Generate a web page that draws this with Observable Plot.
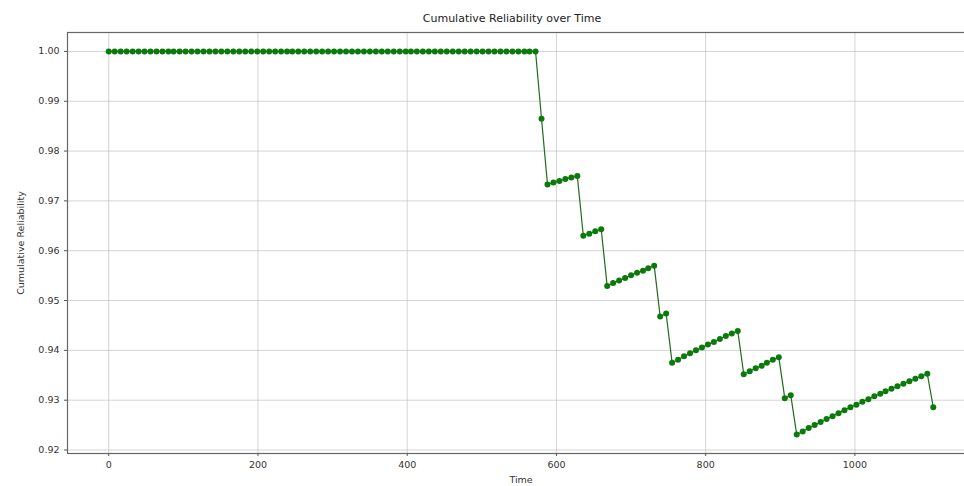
<!DOCTYPE html>
<html><head><meta charset="utf-8">
<script src="https://cdn.jsdelivr.net/npm/d3@7"></script>
<script src="https://cdn.jsdelivr.net/npm/@observablehq/plot@0.6"></script>
<style>html,body{margin:0;padding:0;background:#fff;overflow:hidden}</style>
</head><body><div id="chart"></div>
<script>
const chartTitle = "Cumulative Reliability over Time";
const xLabel = "Time";
const yLabel = "Cumulative Reliability";
const xTicks = [0, 200, 400, 600, 800, 1000];
const yTicks = [0.92, 0.93, 0.94, 0.95, 0.96, 0.97, 0.98, 0.99, 1.00];

const times = [
  0, 8, 16, 24, 32, 40, 48, 56, 64, 72,
  80, 87, 95, 103, 111, 119, 127, 135, 143, 151,
  159, 167, 175, 183, 191, 199, 207, 215, 223, 231,
  239, 246, 254, 262, 270, 278, 286, 294, 302, 310,
  318, 326, 334, 342, 350, 358, 366, 374, 382, 390,
  398, 405, 413, 421, 429, 437, 445, 453, 461, 469,
  477, 485, 493, 501, 509, 517, 525, 533, 541, 549,
  557, 564, 572, 580, 588, 596, 604, 612, 620, 628,
  636, 644, 652, 660, 668, 676, 684, 692, 700, 708,
  716, 723, 731, 739, 747, 755, 763, 771, 779, 787,
  795, 803, 811, 819, 827, 835, 843, 851, 859, 867,
  875, 882, 890, 898, 906, 914, 922, 930, 938, 946,
  954, 962, 970, 978, 986, 994, 1002, 1010, 1018, 1026,
  1034, 1041, 1049, 1057, 1065, 1073, 1081, 1089, 1097, 1105
];

const reliability = [
  1, 1, 1, 1, 1, 1, 1, 1, 1, 1,
  1, 1, 1, 1, 1, 1, 1, 1, 1, 1,
  1, 1, 1, 1, 1, 1, 1, 1, 1, 1,
  1, 1, 1, 1, 1, 1, 1, 1, 1, 1,
  1, 1, 1, 1, 1, 1, 1, 1, 1, 1,
  1, 1, 1, 1, 1, 1, 1, 1, 1, 1,
  1, 1, 1, 1, 1, 1, 1, 1, 1, 1,
  1, 1, 1, 0.9865, 0.9733, 0.9737, 0.9740, 0.9744, 0.9747, 0.9750,
  0.9630, 0.9634, 0.9639, 0.9643, 0.9529, 0.9535, 0.9540, 0.9545, 0.9551, 0.9556,
  0.9560, 0.9565, 0.9570, 0.9468, 0.9474, 0.9375, 0.9381, 0.9388, 0.9394, 0.9400,
  0.9406, 0.9412, 0.9417, 0.9423, 0.9429, 0.9434, 0.9439, 0.9352, 0.9358, 0.9364,
  0.9369, 0.9375, 0.9381, 0.9386, 0.9304, 0.9310, 0.9231, 0.9237, 0.9244, 0.9250,
  0.9256, 0.9262, 0.9268, 0.9274, 0.9280, 0.9286, 0.9291, 0.9297, 0.9302, 0.9308,
  0.9313, 0.9318, 0.9323, 0.9328, 0.9333, 0.9338, 0.9343, 0.9348, 0.9353, 0.9286
];

const data = times.map((t, i) => ({time: t, reliability: reliability[i]}));

const chart = Plot.plot({
  width: 964,
  height: 486,
  marginTop: 32,
  marginBottom: 33,
  marginLeft: 67,
  marginRight: -10,
  style: {fontFamily: "DejaVu Sans", fontSize: "9.5px", color: "#333", background: "#fff", overflow: "hidden"},
  x: {domain: [-55.25, 1160.25]},
  y: {domain: [0.9193, 1.0038]},
  marks: [
    Plot.gridX(xTicks, {stroke: "#b0b0b0", strokeOpacity: 0.55, strokeWidth: 1}),
    Plot.gridY(yTicks, {stroke: "#b0b0b0", strokeOpacity: 0.55, strokeWidth: 1}),
    Plot.frame({stroke: "#666", strokeWidth: 1.2}),
    Plot.axisX({ticks: xTicks, tickFormat: d3.format("d"), tickSize: 3, tickPadding: 5, stroke: "#555",
      label: xLabel, labelAnchor: "center", labelArrow: "none", labelOffset: 29}),
    Plot.axisY({ticks: yTicks, tickFormat: d3.format(".2f"), tickSize: 3, tickPadding: 5, stroke: "#555",
      label: yLabel, labelAnchor: "center", labelArrow: "none", labelOffset: 50}),
    Plot.line(data, {x: "time", y: "reliability", stroke: "#1f6a1f", strokeWidth: 1.2}),
    Plot.dot(data, {x: "time", y: "reliability", r: 3, fill: "#0a7a0a", stroke: "none"}),
    Plot.text([chartTitle], {frameAnchor: "top", dy: -18, dx: -9, fontSize: 11, fill: "#222"})
  ]
});
document.getElementById("chart").appendChild(chart);
</script>
</body></html>
